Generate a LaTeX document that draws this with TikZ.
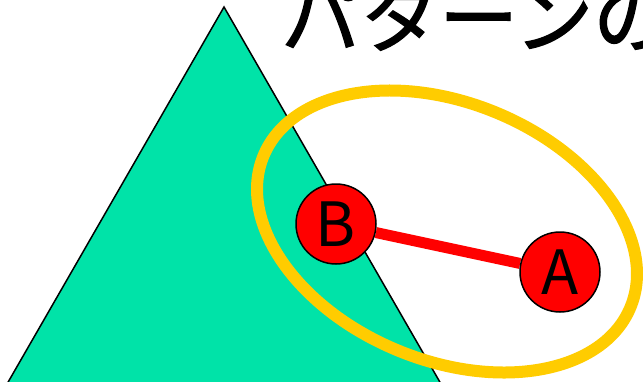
\documentclass[tikz,border=0pt]{standalone}
\usepackage{fontspec}
\setmainfont{Noto Sans CJK JP}
\newfontfamily\jpfont[AutoFakeBold=1.6]{Noto Sans CJK JP}
\definecolor{trigreen}{RGB}{0,227,168}
\definecolor{ringyellow}{RGB}{255,204,0}
\definecolor{dotred}{RGB}{255,0,0}
\pgfdeclarelayer{bg}
\pgfdeclarelayer{mid}
\pgfsetlayers{bg,mid,main}
\begin{document}
\begin{tikzpicture}[x=1pt,y=-1pt,
  dot/.style={circle,draw=black,line width=1.5pt,fill=dotred,minimum size=80pt,inner sep=0pt,font=\fontsize{61}{61}\selectfont},
  link/.style={draw=dotred,line width=11pt},
  ring/.style={draw=ringyellow,line width=12pt},
  tri/.style={fill=trigreen,draw=black,line width=1.5pt}]
\path[use as bounding box,clip] (0,0) rectangle (643,381);
\node[dot] (B) at (336,224) {B};
\node[dot] (A) at (560,272) {A};
\begin{pgfonlayer}{bg}
\fill[white] (0,0) rectangle (643,381);
\draw[tri] (224,7) -- (441,384) -- (7,384) -- cycle;
\node[anchor=base west,inner sep=0pt,font=\jpfont\bfseries\fontsize{79}{79}\selectfont] (title) at (281,47) {パターンの};
\draw[ring] (447,231.5) ellipse[x radius=198.5, y radius=128.7, rotate=-22.4];
\end{pgfonlayer}
\begin{pgfonlayer}{mid}
\draw[link] (B) -- (A);
\end{pgfonlayer}
\end{tikzpicture}
\end{document}
